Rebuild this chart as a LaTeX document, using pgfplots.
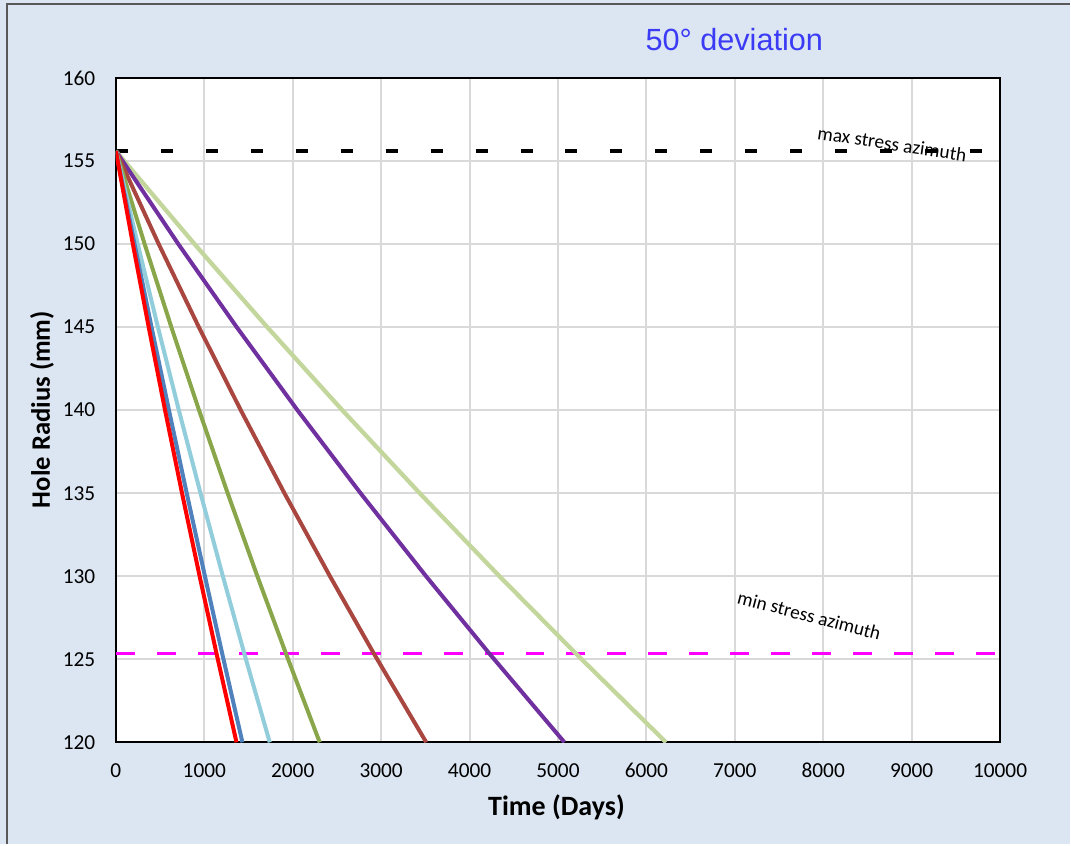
\documentclass[border=0pt]{standalone}
\usepackage{pgfplots}
\pgfplotsset{compat=1.18}
\usepackage{fontspec}
\setmainfont{Carlito}
\newfontfamily\arialfont{Liberation Sans}
\definecolor{bgc}{HTML}{DCE6F2}
\definecolor{gridc}{HTML}{D9D9D9}
\definecolor{cred}{HTML}{FF0000}
\definecolor{cblue}{HTML}{4F81BD}
\definecolor{clblue}{HTML}{92CDDC}
\definecolor{cgreen}{HTML}{8AA64A}
\definecolor{cbrown}{HTML}{A8463F}
\definecolor{cpurple}{HTML}{7030A0}
\definecolor{clgreen}{HTML}{C3D69B}
\definecolor{cmag}{HTML}{FF00FF}
\definecolor{ctitle}{HTML}{3B3BF5}
\begin{document}
\begin{tikzpicture}
\fill[bgc] (-87pt,-76.5pt) rectangle (716.25pt,557.25pt);
\draw[gray!70!black, line width=1.5pt] (-81.75pt,-76.5pt) -- (-81.75pt,554.25pt) -- (716.25pt,554.25pt);
\begin{axis}[
  at={(0,0)}, anchor=south west,
  scale only axis, width=663.75pt, height=498.75pt,
  xmin=0, xmax=10000, ymin=120, ymax=160,
  xtick={0,1000,...,10000}, ytick={120,125,...,160},
  scaled ticks=false,
  grid=major, major grid style={gridc, line width=1.5pt},
  axis line style={black, line width=1.5pt},
  axis background/.style={fill=white},
  major tick length=0pt,
  tick label style={font=\fontsize{16}{18}\selectfont},
  /pgf/number format/assume math mode=true,
  /pgf/number format/set thousands separator={},
  xticklabel style={yshift=-12pt, text height=11pt, text depth=0pt},
  yticklabel style={xshift=-12pt},
  xlabel={\textbf{Time (Days)}},
  ylabel={\textbf{Hole Radius (mm)}},
  xlabel style={font=\fontsize{21}{24}\selectfont, at={(axis description cs:0.4983,-0.0977)}, anchor=center},
  ylabel style={font=\fontsize{20}{23}\selectfont, at={(axis description cs:-0.0836,0.5008)}, anchor=center},
  title={\arialfont 50° deviation},
  title style={font=\fontsize{23}{26}\selectfont, text=ctitle, at={(axis description cs:0.6994,1.046)}, anchor=center},
  clip=true,
]
\addplot[black, line width=3pt, dash pattern=on 9pt off 24.75pt] coordinates {(0,155.6) (10000,155.6)};
\addplot[cmag, line width=2.25pt, dash pattern=on 14.25pt off 16.5pt] coordinates {(0,125.35) (10000,125.35)};
\addplot[clgreen, line width=3.2pt] coordinates {(0,155.6) (889,150) (1711,145) (2560,140) (3436,135) (4338,130) (5201,125.35) (6222,120)};
\addplot[cpurple, line width=3pt] coordinates {(0,155.6) (706,150) (1366,145) (2053,140) (2767,135) (3508,130) (4223,125.35) (5073,120)};
\addplot[cbrown, line width=3pt] coordinates {(0,155.6) (484,150) (938,145) (1412,140) (1906,135) (2421,130) (2917,125.35) (3510,120)};
\addplot[cgreen, line width=3pt] coordinates {(0,155.6) (325,150) (627,145) (940,140) (1264,135) (1600,130) (1923,125.35) (2305,120)};
\addplot[clblue, line width=3pt] coordinates {(0,155.6) (247,150) (475,145) (712,140) (957,135) (1210,130) (1452,125.35) (1740,120)};
\addplot[cblue, line width=3pt] coordinates {(0,155.6) (211,150) (403,145) (600,140) (801,135) (1007,130) (1202,125.35) (1431,120)};
\addplot[cred, line width=3pt] coordinates {(0,155.6) (192,150) (371,145) (556,140) (748,135) (947,130) (1138,125.35) (1364,120)};
\node[rotate=-8.5, font=\fontsize{14.5}{16}\selectfont] at (axis cs:8780,156.03) {max stress azimuth};
\node[rotate=-14.7, font=\fontsize{14.5}{16}\selectfont] at (axis cs:7842,127.64) {min stress azimuth};
\end{axis}
\end{tikzpicture}
\end{document}
